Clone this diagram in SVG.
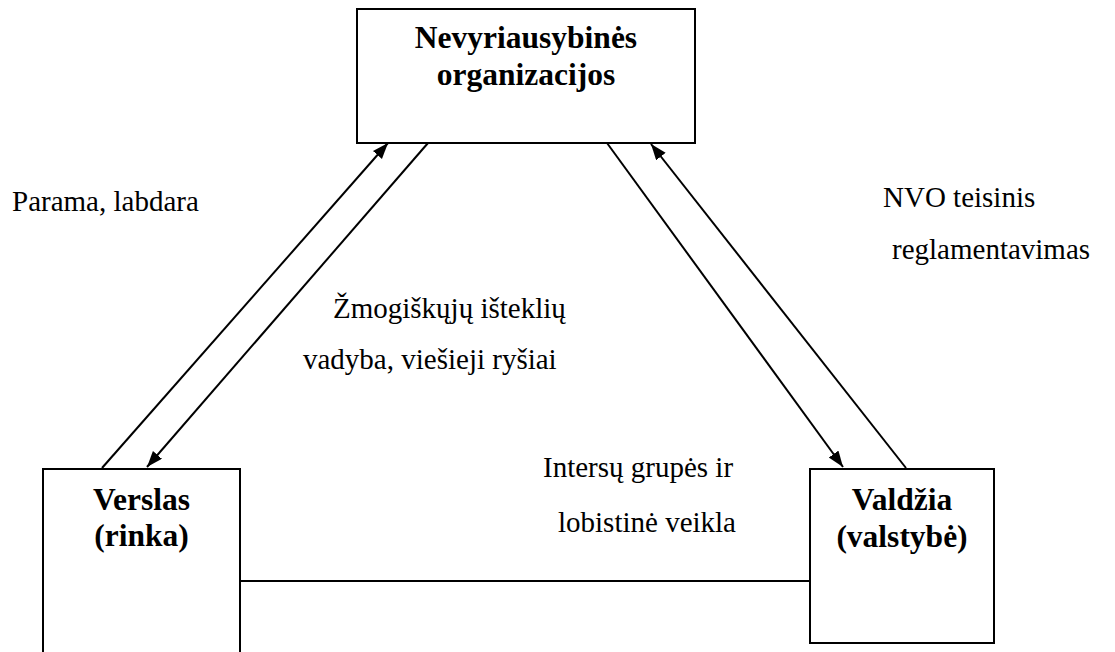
<svg xmlns="http://www.w3.org/2000/svg" width="1115" height="652" viewBox="0 0 1115 652">
<style>
.box{fill:#fff;stroke:#000;stroke-width:2}
.b{font-weight:bold;font-size:31.5px;fill:#000;text-anchor:middle}
.t{font-size:29px;fill:#000}
.c{stroke:#000;stroke-width:2;fill:none}
</style>
<defs>
<marker id="ah" markerUnits="userSpaceOnUse" markerWidth="18" markerHeight="14" refX="16" refY="6" orient="auto">
<path d="M0,0 L16,6 L0,12 z" fill="#000"/>
</marker>
</defs>
<rect width="1115" height="652" fill="#fff"/>
<g id="connectors">
<line class="c" x1="102" y1="468" x2="388" y2="143" marker-end="url(#ah)"/>
<line class="c" x1="428" y1="143" x2="147" y2="467" marker-end="url(#ah)"/>
<line class="c" x1="607" y1="143" x2="843" y2="467" marker-end="url(#ah)"/>
<line class="c" x1="906" y1="468" x2="651" y2="144" marker-end="url(#ah)"/>
<line class="c" x1="240" y1="581" x2="810" y2="581"/>
</g>
<g font-family="'Liberation Serif', 'Times New Roman', 'DejaVu Serif', serif">
<g id="ngo">
<rect class="box" x="357" y="9" width="338" height="134"/>
<text class="b" x="526" y="48">Nevyriausybinės</text>
<text class="b" x="526" y="85">organizacijos</text>
</g>
<g id="business">
<rect class="box" x="43" y="469" width="197" height="200"/>
<text class="b" x="141.5" y="510">Verslas</text>
<text class="b" x="141.5" y="546">(rinka)</text>
</g>
<g id="government">
<rect class="box" x="810" y="469" width="184" height="174"/>
<text class="b" x="902" y="510">Valdžia</text>
<text class="b" x="902" y="547">(valstybė)</text>
</g>
<g id="labels">
<text class="t" x="12" y="211">Parama, labdara</text>
<text class="t" x="333" y="318">Žmogiškųjų išteklių</text>
<text class="t" x="303" y="369">vadyba, viešieji ryšiai</text>
<text class="t" x="883" y="207">NVO teisinis</text>
<text class="t" x="892" y="259">reglamentavimas</text>
<text class="t" x="543" y="477">Intersų grupės ir</text>
<text class="t" x="558" y="532">lobistinė veikla</text>
</g>
</g>
</svg>
